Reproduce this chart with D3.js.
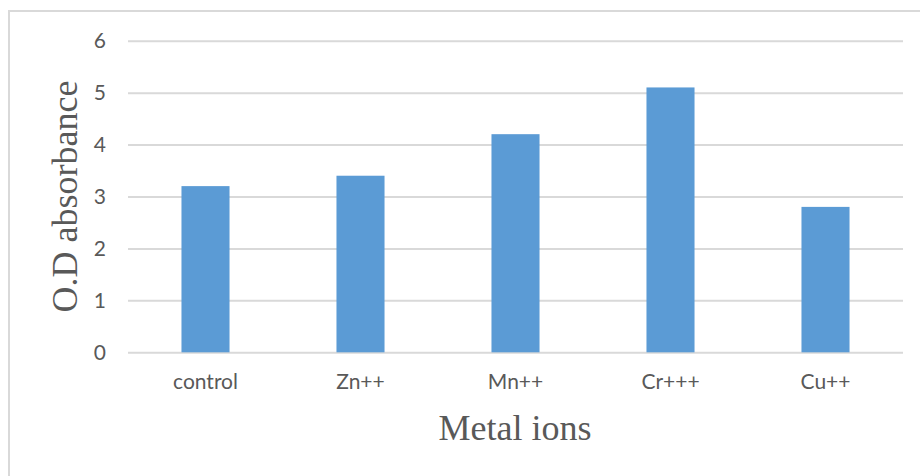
<!DOCTYPE html>
<html>
<head>
<meta charset="utf-8">
<script src="https://cdn.jsdelivr.net/npm/d3@7"></script>
<style>
  html, body { margin: 0; padding: 0; background: #fff; }
  svg { display: block; }
</style>
</head>
<body>
<svg id="chart" width="920" height="476"></svg>
<script>
// Absorbance readings per metal ion treatment
const categories = ["control", "Zn++", "Mn++", "Cr+++", "Cu++"];
const values = [3.2, 3.4, 4.2, 5.1, 2.8];
const yTicks = [0, 1, 2, 3, 4, 5, 6];
const xTitle = "Metal ions";
const yTitle = "O.D absorbance";

const svg = d3.select("#chart");
const W = 920, H = 476;
const margin = { left: 128, right: 17, top: 40.7, bottom: 123.7 };
const plotW = W - margin.left - margin.right;
const plotH = H - margin.top - margin.bottom;

// outer frame
svg.append("rect")
  .attr("x", 9).attr("y", 11)
  .attr("width", 930).attr("height", 490)
  .attr("fill", "none")
  .attr("stroke", "#d9d9d9")
  .attr("stroke-width", 2);

const g = svg.append("g").attr("transform", `translate(${margin.left},${margin.top})`);

const x = d3.scaleBand().domain(categories).range([0, plotW]).paddingInner(0.69).paddingOuter(0.345);
const y = d3.scaleLinear().domain([0, 6]).range([plotH, 0]);

// horizontal gridlines + value labels
const yAxis = d3.axisLeft(y).tickValues(yTicks).tickSize(-plotW).tickPadding(22).tickFormat(d3.format("d"));
const ya = g.append("g").call(yAxis);
ya.select(".domain").remove();
ya.selectAll(".tick line").attr("stroke", "#d9d9d9").attr("stroke-width", 2);
ya.selectAll(".tick text")
  .attr("fill", "#595959")
  .style("font-family", "Lato, 'Open Sans', sans-serif")
  .style("font-size", "21px");

// bars
g.selectAll("rect.bar")
  .data(values)
  .join("rect")
  .attr("class", "bar")
  .attr("x", (d, i) => x(categories[i]))
  .attr("width", x.bandwidth())
  .attr("y", d => y(d))
  .attr("height", d => y(0) - y(d))
  .attr("fill", "#5b9bd5");

// category labels
const xAxis = d3.axisBottom(x).tickSize(0).tickPadding(22);
const xa = g.append("g").attr("transform", `translate(0,${plotH})`).call(xAxis);
xa.select(".domain").remove();
xa.selectAll(".tick text")
  .attr("fill", "#595959")
  .style("font-family", "Lato, 'Open Sans', sans-serif")
  .style("font-size", "21px");

// axis titles
svg.append("text")
  .attr("x", 515).attr("y", 440)
  .attr("text-anchor", "middle")
  .attr("fill", "#595959")
  .style("font-family", "'Liberation Serif', 'Times New Roman', serif")
  .style("font-size", "36px")
  .text(xTitle);

svg.append("text")
  .attr("transform", "translate(77,196.5) rotate(-90)")
  .attr("text-anchor", "middle")
  .attr("fill", "#595959")
  .style("font-family", "'Liberation Serif', 'Times New Roman', serif")
  .style("font-size", "36px")
  .text(yTitle);
</script>
</body>
</html>
